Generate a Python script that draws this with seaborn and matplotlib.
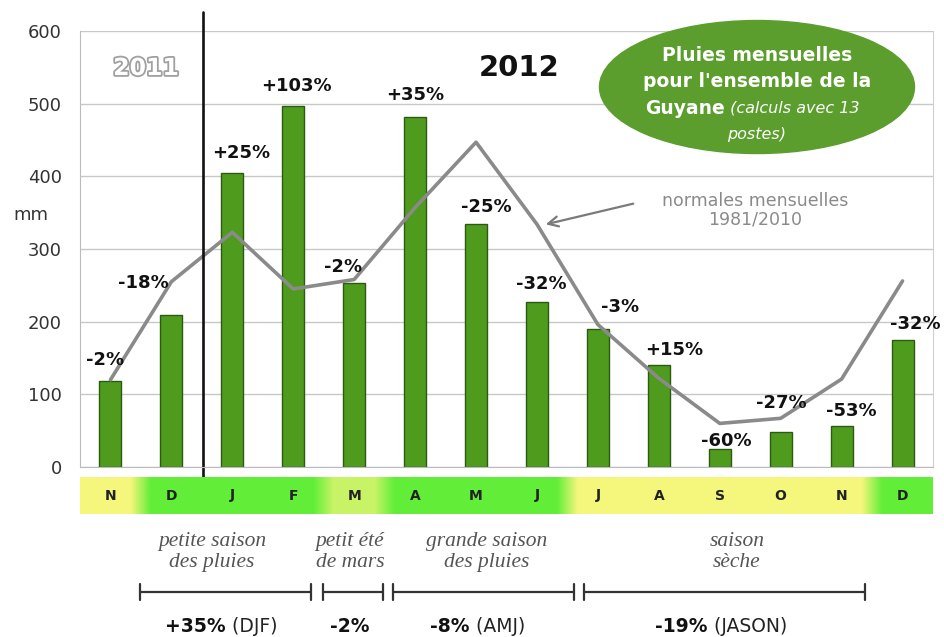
import numpy as np
import matplotlib.pyplot as plt
import matplotlib.patheffects as pe
from matplotlib.patches import Ellipse
from matplotlib.colors import LinearSegmentedColormap
import seaborn as sns

# monthly rainfall Nov 2011 - Dec 2012 (mm) and 1981/2010 normals
months = ["N", "D", "J", "F", "M", "A", "M", "J", "J", "A", "S", "O", "N", "D"]
rain = [118, 209, 404, 497, 253, 482, 334, 227, 190, 140, 25, 48, 56, 175]
normales = [120, 255, 323, 245, 258, 357, 447, 334, 196, 122, 60, 67, 121, 256]
ecarts = ["-2%", "-18%", "+25%", "+103%", "-2%", "+35%", "-25%", "-32%",
          "-3%", "+15%", "-60%", "-27%", "-53%", "-32%"]
# 0 = dry (yellow), 1 = wet (green)
strip_vals = [0, 1, 1, 1, 0.3, 1, 1, 1, 0, 0, 0, 0, 0, 1]
seasons = ["petite saison\ndes pluies", "petit été\nde mars",
           "grande saison\ndes pluies", "saison\nsèche"]
season_pct = ["+35%", "-2%", "-8%", "-19%"]
season_months = [" (DJF)", "", " (AMJ)", " (JASON)"]

pos = list(range(len(months)))

# pixel -> data helpers (axes spans x 80..933 px, y 0 at 467 px, 600 at 31 px)
def dx(px):
    return (px - 80) / 60.93 - 0.5

def dy(py):
    return (467 - py) / 0.7267

sns.set_style("white")
plt.rcParams["font.family"] = ["DejaVu Sans"]

fig = plt.figure(figsize=(9.44, 6.37), dpi=100)
ax = fig.add_axes([80 / 944, 1 - 467 / 637, 853 / 944, 436 / 637])

sns.barplot(x=pos, y=rain, color="#4f9b1d", saturation=1, width=0.36,
            edgecolor="#2b5a10", linewidth=1, ax=ax)
sns.lineplot(x=pos, y=normales, color="#8a8a8a", lw=2.6, ax=ax)

ax.set_xlim(-0.5, 13.5)
ax.set_ylim(0, 600)
ax.set_yticks(range(0, 601, 100))
ax.set_xticks(np.arange(-0.5, 14, 1))
ax.set_xticklabels([])
ax.tick_params(axis="y", labelsize=13, labelcolor="#333333", length=7,
               color="#bbbbbb", pad=6)
ax.tick_params(axis="x", length=7, color="#cccccc", direction="out")
ax.yaxis.grid(True, color="#c8c8c8", lw=1)
ax.set_axisbelow(True)
ax.set_ylabel("")
for s in ["left", "bottom"]:
    ax.spines[s].set_color("#bbbbbb")
ax.spines["right"].set_color("#d0d0d0")
ax.spines["top"].set_visible(False)

# percentage labels (offsets in px: dx, dy above bar top)
lab_off = [(-5, 21), (-28, 32), (9, 20), (3, 20), (-11, 16), (0, 22), (10, 17),
           (4, 18), (22, 22), (15, 15), (7, 8), (1, 29), (10, 15), (13, 16)]
for i, txt in enumerate(ecarts):
    ox, oy = lab_off[i]
    ax.annotate(txt, (i, rain[i]), xytext=(ox * 0.72, oy * 0.72),
                textcoords="offset points", ha="center", va="center",
                fontsize=13, fontweight="bold", color="#111111",
                annotation_clip=False)

# separator between 2011 and 2012
ax.plot([dx(203), dx(203)], [dy(12), dy(477)], color="#111111", lw=1.9,
        clip_on=False)
ax.text(dx(146), dy(68), "2011", fontsize=17, fontweight="bold", color="white",
        ha="center", va="center",
        path_effects=[pe.withStroke(linewidth=2.6, foreground="#a0a0a0")])
ax.text(dx(519), dy(68), "2012", fontsize=21, fontweight="bold",
        color="#111111", ha="center", va="center")
ax.text(dx(31), dy(215), "mm", fontsize=13, color="#333333",
        ha="center", va="center", clip_on=False)

# green ellipse title
ax.add_patch(Ellipse((dx(757), dy(87)), 315 / 60.93, 133 / 0.7267,
                     color="#5c9e2d", clip_on=False, zorder=5))
ax.text(dx(757), dy(55), "Pluies mensuelles", color="white", fontsize=13.5,
        fontweight="bold", ha="center", va="center", zorder=6)
ax.text(dx(757), dy(81), "pour l'ensemble de la", color="white", fontsize=13.5,
        fontweight="bold", ha="center", va="center", zorder=6)
ax.text(dx(725), dy(108), "Guyane", color="white", fontsize=13.5,
        fontweight="bold", ha="right", va="center", zorder=6)
ax.text(dx(725), dy(108), " (calculs avec 13", color="white", fontsize=11.5,
        style="italic", ha="left", va="center", zorder=6)
ax.text(dx(757), dy(134), "postes)", color="white", fontsize=11.5,
        style="italic", ha="center", va="center", zorder=6)

# normals annotation
ax.text(dx(755), dy(210), "normales mensuelles\n1981/2010", color="#8a8a8a",
        fontsize=12.5, ha="center", va="center", linespacing=1.0)
ax.annotate("", xy=(dx(543), dy(225)), xytext=(dx(636), dy(203)),
            arrowprops=dict(arrowstyle="->", color="#7a7a7a", lw=1.6,
                            mutation_scale=18))

# coloured month strip
ax2 = fig.add_axes([80 / 944, 1 - 514 / 637, 853 / 944, 37 / 637])
cmap = LinearSegmentedColormap.from_list("saison", ["#f5f67c", "#62ee38"])
strip = np.repeat(np.array(strip_vals, dtype=float), 3)[None, :]
ax2.imshow(strip, cmap=cmap, vmin=0, vmax=1, aspect="auto",
           interpolation="bilinear", extent=(-0.5, 13.5, 0, 1))
for i, m in enumerate(months):
    ax2.text(i, 0.5, m, fontsize=10, fontweight="bold", color="#222222",
             ha="center", va="center")
ax2.set_xlim(-0.5, 13.5)
ax2.set_ylim(0, 1)
ax2.axis("off")

# seasons below
season_cx = [212, 350, 487, 737]
brackets = [(140, 311), (323, 383), (393, 574), (584, 865)]
pct_joint = [226, 350, 470, 708]
for k in range(len(seasons)):
    ax.text(dx(season_cx[k]), dy(552), seasons[k], family="Liberation Serif",
            style="italic", fontsize=15.5, color="#555555", ha="center",
            va="center", linespacing=1.1, clip_on=False)
    x0, x1 = brackets[k]
    ax.plot([dx(x0), dx(x1)], [dy(592), dy(592)], color="#333333", lw=1.6,
            clip_on=False)
    for xe in (x0, x1):
        ax.plot([dx(xe), dx(xe)], [dy(584), dy(600)], color="#333333",
                lw=1.6, clip_on=False)
    if season_months[k]:
        ax.text(dx(pct_joint[k]), dy(627), season_pct[k], fontsize=13.5,
                fontweight="bold", color="#111111", ha="right", va="center")
        ax.text(dx(pct_joint[k]), dy(627), season_months[k], fontsize=13.5,
                color="#222222", ha="left", va="center")
    else:
        ax.text(dx(pct_joint[k]), dy(627), season_pct[k], fontsize=13.5,
                fontweight="bold", color="#111111", ha="center", va="center")

fig.savefig("out.png", dpi=100)
